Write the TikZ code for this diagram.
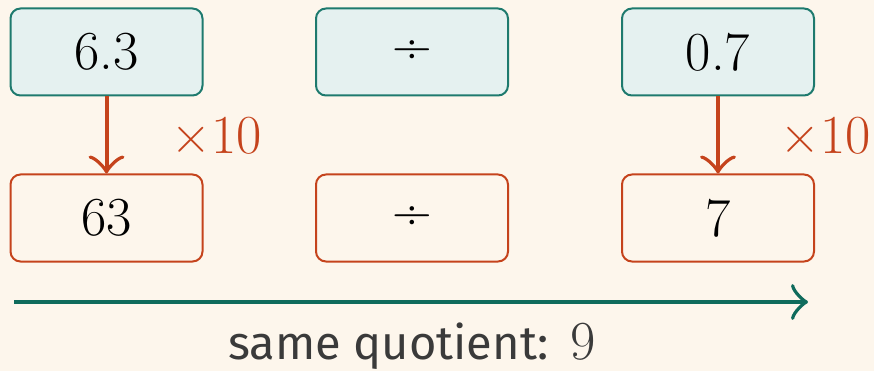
\documentclass[tikz,border=0pt]{standalone}
\usepackage{fontspec}
\newfontfamily\labelfont{Fira Sans}
\newfontfamily\numfont{Latin Modern Roman}
\usetikzlibrary{arrows.meta}
\definecolor{bg}{HTML}{FDF6EC}
\definecolor{tealfill}{HTML}{E5F1F0}
\definecolor{tealline}{HTML}{1E7A6E}
\definecolor{tealdark}{HTML}{0F6B5C}
\definecolor{orng}{HTML}{C5431C}
\definecolor{txtgray}{HTML}{3A3A3A}
\tikzset{
  box/.style={rounded corners=10pt, minimum width=192pt, minimum height=87pt, line width=2pt, inner sep=0pt,
    font=\numfont\fontsize{55}{60}\selectfont},
  topbox/.style={box, draw=tealline, fill=tealfill},
  botbox/.style={box, draw=orng, fill=bg},
  scalearrow/.style={draw=orng, line width=4pt, -{Classical TikZ Rightarrow[length=18pt, width=36pt]}},
  timesl/.style={text=orng, font=\numfont\fontsize{55}{60}\selectfont, inner sep=0pt},
  linearrow/.style={draw=tealdark, line width=4pt, -{Classical TikZ Rightarrow[length=17pt, width=36pt]}},
}
\begin{document}
\begin{tikzpicture}[x=1pt, y=-1pt]
\fill[bg] (0,0) rectangle (874,371);
\useasboundingbox (0,0) rectangle (874,371);
\node[topbox] (a) at (106.5,52) {6.3};
\node[topbox] (d1) at (412,52) {÷};
\node[topbox] (b) at (718,52) {0.7};
\node[botbox] (a2) at (106.5,218) {63};
\node[botbox] (d2) at (412,218) {÷};
\node[botbox] (b2) at (718,218) {7};
\draw[scalearrow] (a) -- (a2);
\draw[scalearrow] (b) -- (b2);
\node[timesl] (m1) at (217,136) {×10};
\node[timesl] (m2) at (826,136) {×10};
\coordinate (s) at (14,302);
\coordinate (e) at (808,302);
\draw[linearrow] (s) -- (e);
\node[text=txtgray, inner sep=0pt] (q) at (412,346) {\labelfont\fontsize{47}{52}\selectfont same quotient:\hspace{22pt}\numfont\fontsize{55}{60}\selectfont 9};
\end{tikzpicture}
\end{document}
